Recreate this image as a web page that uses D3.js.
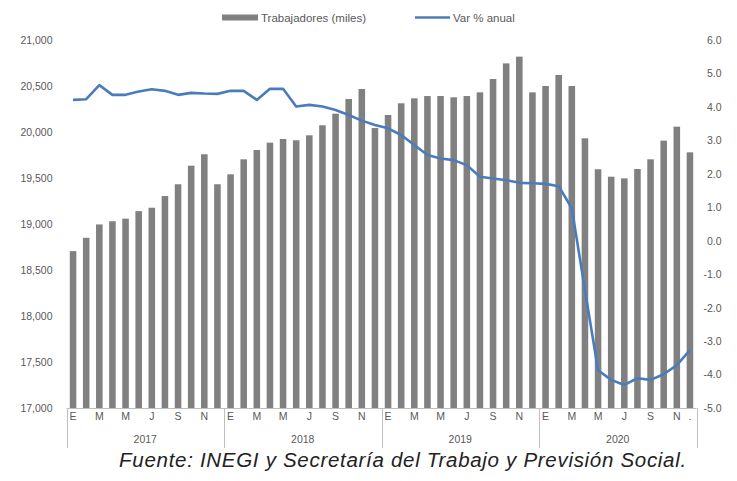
<!DOCTYPE html>
<html>
<head>
<meta charset="utf-8">
<script src="https://cdn.jsdelivr.net/npm/d3@7"></script>
<style>
  html, body { margin: 0; padding: 0; background: #fff; }
  svg { display: block; }
  text { font-family: "Liberation Sans", Arial, sans-serif; }
</style>
</head>
<body>
<svg id="chart" width="737" height="481"></svg>
<script>
// Monthly series, January 2017 to December 2020
const years = ["2017", "2018", "2019", "2020"];
const monthLabels = ["E", "", "M", "", "M", "", "J", "", "S", "", "N", ""];
const lastMonthLabel = ".";

// Trabajadores asegurados (miles)
const trabajadores = [
  18705, 18850, 18995, 19030, 19058, 19140, 19177, 19304, 19432, 19634, 19758, 19432,
  19540, 19703, 19804, 19884, 19924, 19910, 19964, 20073, 20199, 20359, 20467, 20043,
  20185, 20312, 20366, 20391, 20391, 20377, 20391, 20431, 20576, 20746, 20819, 20431,
  20500, 20620, 20500, 19931, 19595, 19514, 19496, 19598, 19703, 19906, 20058, 19779
];

// Variación % anual
const varAnual = [
  4.21, 4.23, 4.65, 4.36, 4.36, 4.46, 4.53, 4.48, 4.36, 4.42, 4.40, 4.39,
  4.48, 4.48, 4.21, 4.54, 4.54, 4.01, 4.06, 4.01, 3.91, 3.76, 3.59, 3.46,
  3.36, 3.16, 2.86, 2.56, 2.46, 2.41, 2.26, 1.91, 1.86, 1.81, 1.73, 1.72,
  1.70, 1.63, 0.97, -1.47, -3.87, -4.16, -4.31, -4.11, -4.16, -3.99, -3.72, -3.27
];

const leftTicks = [17000, 17500, 18000, 18500, 19000, 19500, 20000, 20500, 21000];
const rightTicks = [-5, -4, -3, -2, -1, 0, 1, 2, 3, 4, 5, 6];

const svg = d3.select("#chart");
const plotLeft = 66.5, plotRight = 696.5, plotTop = 40, plotBottom = 408;
const axisColor = "#595959";
const barColor = "#808080";
const lineColor = "#4a7cbc";

const months = d3.range(trabajadores.length);
const x = d3.scaleBand().domain(months).range([plotLeft, plotRight]).paddingInner(0.5).paddingOuter(0.25);
const yL = d3.scaleLinear().domain([17000, 21000]).range([plotBottom, plotTop]);
const yR = d3.scaleLinear().domain([-5, 6]).range([plotBottom, plotTop]);

const loc = d3.formatLocale({decimal: ".", thousands: ",", grouping: [3], currency: ["$", ""], minus: "-"});

// Bars
svg.append("g").selectAll("rect")
  .data(trabajadores)
  .join("rect")
  .attr("x", (d, i) => x(i))
  .attr("width", x.bandwidth())
  .attr("y", d => yL(d))
  .attr("height", d => yL(17000) - yL(d))
  .attr("fill", barColor);

// Line
const line = d3.line()
  .x((d, i) => x(i) + x.bandwidth() / 2)
  .y(d => yR(d));
svg.append("path")
  .datum(varAnual)
  .attr("d", line)
  .attr("fill", "none")
  .attr("stroke", lineColor)
  .attr("stroke-width", 2.6)
  .attr("stroke-linejoin", "round");

// Left axis
const gL = svg.append("g")
  .attr("transform", `translate(${plotLeft - 11},0)`)
  .call(d3.axisLeft(yL).tickValues(leftTicks).tickFormat(loc.format(",")).tickSize(0));
gL.select(".domain").remove();
gL.selectAll("text").attr("fill", axisColor).attr("font-size", 10.5)
  .attr("font-family", "'Liberation Sans', Arial, sans-serif");

// Right axis
const gR = svg.append("g")
  .attr("transform", `translate(${plotRight + 25},0)`)
  .call(d3.axisLeft(yR).tickValues(rightTicks).tickFormat(loc.format(".1f")).tickSize(0).tickPadding(0));
gR.select(".domain").remove();
gR.selectAll("text").attr("fill", axisColor).attr("font-size", 10.5)
  .attr("font-family", "'Liberation Sans', Arial, sans-serif");

// Month axis
const gX = svg.append("g")
  .attr("transform", `translate(0,${plotBottom})`)
  .call(d3.axisBottom(x).tickSize(0).tickPadding(5)
    .tickFormat(i => i === months.length - 1 ? lastMonthLabel : monthLabels[i % 12]));
gX.select(".domain").remove();
gX.selectAll("text").attr("fill", axisColor).attr("font-size", 10.5)
  .attr("font-family", "'Liberation Sans', Arial, sans-serif");

// Category frame
const frameColor = "#bfbfbf";
svg.append("line")
  .attr("x1", plotLeft).attr("x2", plotRight).attr("y1", plotBottom + 0.5).attr("y2", plotBottom + 0.5)
  .attr("stroke", frameColor).attr("stroke-width", 1);
const yearEdge = k => plotLeft + (plotRight - plotLeft) * k / years.length;
svg.append("g").selectAll("line")
  .data(d3.range(years.length + 1))
  .join("line")
  .attr("x1", k => Math.round(yearEdge(k)) + 0.5)
  .attr("x2", k => Math.round(yearEdge(k)) + 0.5)
  .attr("y1", plotBottom)
  .attr("y2", 448)
  .attr("stroke", frameColor)
  .attr("stroke-width", 1);

// Year labels
svg.append("g").selectAll("text")
  .data(years)
  .join("text")
  .attr("x", (d, k) => (yearEdge(k) + yearEdge(k + 1)) / 2)
  .attr("y", 443)
  .attr("text-anchor", "middle")
  .attr("font-size", 10.5)
  .attr("fill", axisColor)
  .text(d => d);

// Legend
const lg = svg.append("g");
lg.append("rect").attr("x", 222).attr("y", 14.5).attr("width", 36).attr("height", 6).attr("fill", barColor);
lg.append("text").attr("x", 261).attr("y", 21.5).attr("font-size", 11.5).attr("fill", axisColor).text("Trabajadores (miles)");
lg.append("line").attr("x1", 415).attr("x2", 450).attr("y1", 17.5).attr("y2", 17.5)
  .attr("stroke", lineColor).attr("stroke-width", 2.6);
lg.append("text").attr("x", 453).attr("y", 21.5).attr("font-size", 11.5).attr("fill", axisColor).text("Var % anual");

// Source note
svg.append("text")
  .attr("x", 403).attr("y", 467)
  .attr("text-anchor", "middle")
  .attr("font-size", 20.5)
  .attr("letter-spacing", 0.7)
  .attr("font-style", "italic")
  .attr("fill", "#222")
  .text("Fuente: INEGI y Secretaría del Trabajo y Previsión Social.");
</script>
</body>
</html>
